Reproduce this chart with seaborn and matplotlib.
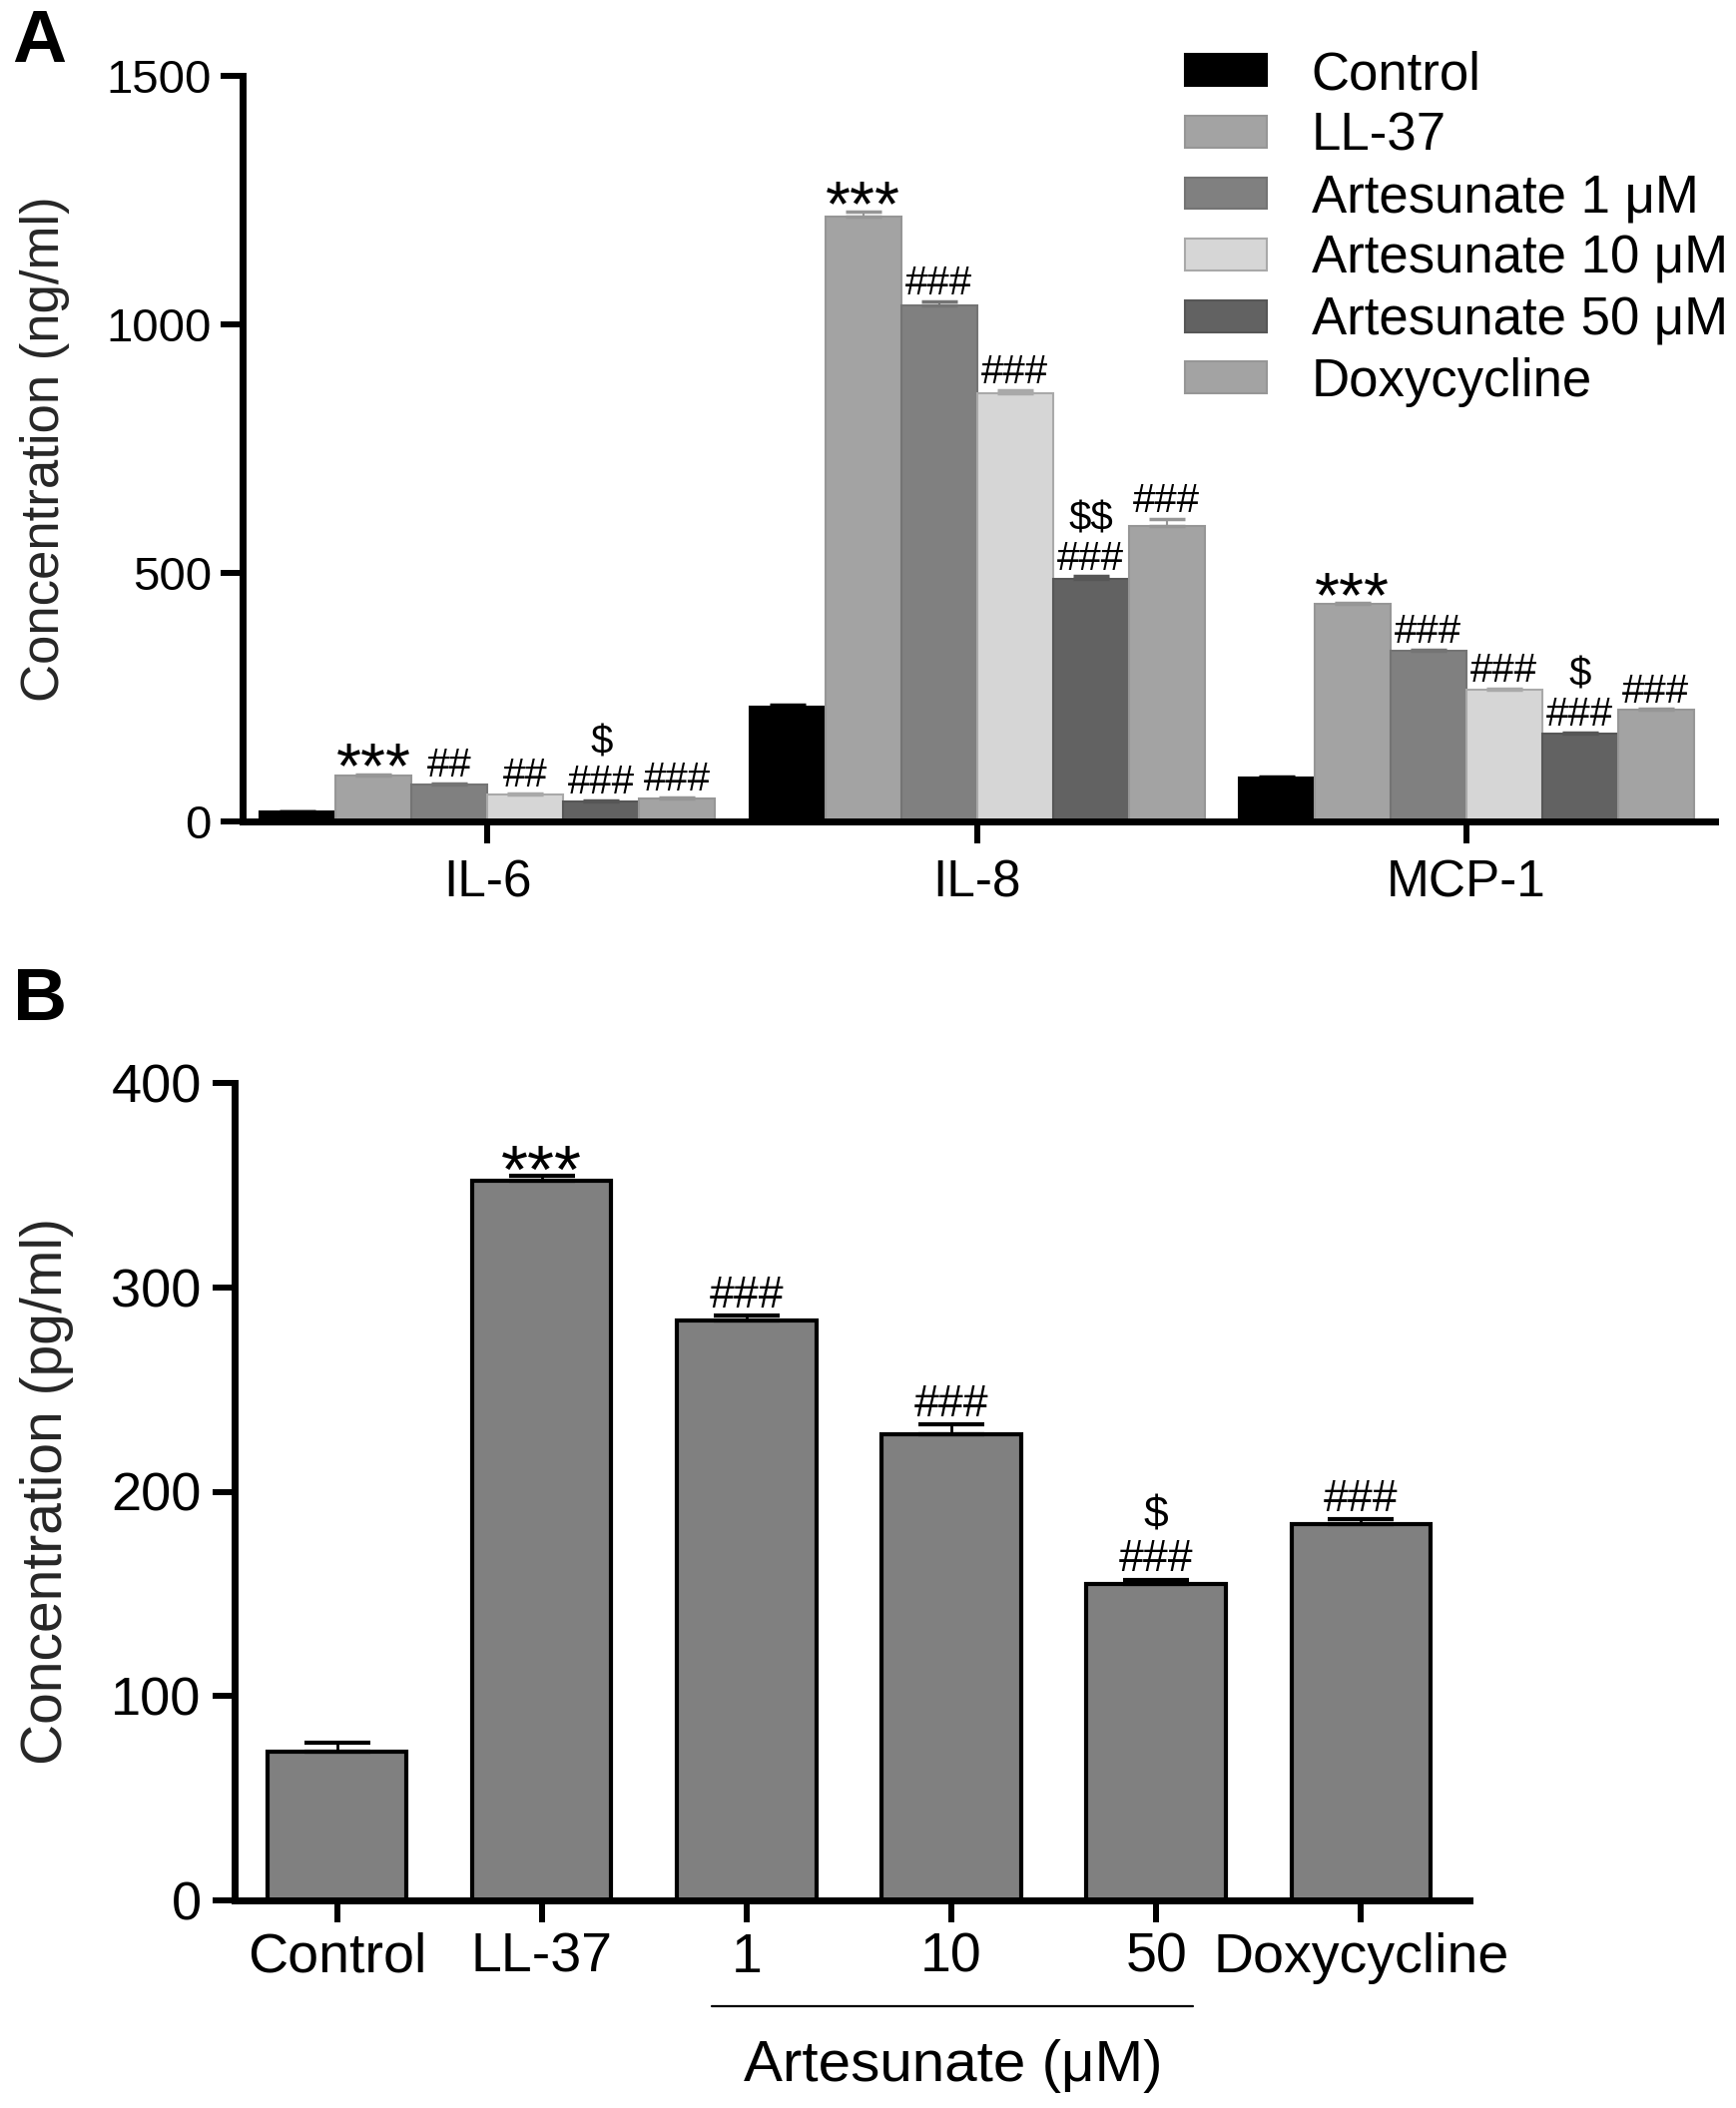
import numpy as np
import pandas as pd
import matplotlib
matplotlib.use("Agg")
import matplotlib.pyplot as plt
import seaborn as sns

# ---------------- data ----------------
cytokines = ["IL-6", "IL-8", "MCP-1"]
groups = ["Control", "LL-37", "Artesunate 1 μM", "Artesunate 10 μM",
          "Artesunate 50 μM", "Doxycycline"]

il6_mean = [20, 93, 75, 55, 40, 46]
il6_sem = [1, 2, 2, 2, 2, 2]
il8_mean = [230, 1217, 1039, 861, 488, 595]
il8_sem = [4, 10, 8, 7, 5, 13]
mcp1_mean = [88, 437, 343, 266, 177, 224]
mcp1_sem = [2, 3, 2, 2, 2, 2]

il6_marks = ["", "***", "##", "##", "$\n###", "###"]
il8_marks = ["", "***", "###", "###", "$$\n###", "###"]
mcp1_marks = ["", "***", "###", "###", "$\n###", "###"]

b_labels = ["Control", "LL-37", "1", "10", "50", "Doxycycline"]
b_mean = [73, 352, 284, 228, 155, 184]
b_sem = [4, 2.5, 2, 5, 2, 2.6]
b_marks = ["", "***", "###", "###", "$\n###", "###"]

fill_colors = ["#000000", "#a3a3a3", "#808080", "#d6d6d6", "#626262", "#a3a3a3"]
edge_colors = ["#000000", "#969696", "#747474", "#a9a9a9", "#565656", "#969696"]

# ---------------- style ----------------
sns.set_style("ticks")
plt.rcParams["font.family"] = ["Liberation Sans", "DejaVu Sans"]
plt.rcParams["axes.linewidth"] = 5
plt.rcParams["xtick.major.width"] = 4.3
plt.rcParams["ytick.major.width"] = 4.3
plt.rcParams["xtick.major.size"] = 16
plt.rcParams["ytick.major.size"] = 16
plt.rcParams["xtick.color"] = "black"
plt.rcParams["ytick.color"] = "black"
plt.rcParams["axes.edgecolor"] = "black"
plt.rcParams["text.color"] = "black"

W, H = 1739, 2112
fig = plt.figure(figsize=(W / 100, H / 100), dpi=100)

# ---------------- panel A ----------------
axA = fig.add_axes([243 / W, 1 - 823 / H, (1718 - 243) / W, (823 - 76) / H])

rows = []
for cyt, means in zip(cytokines, [il6_mean, il8_mean, mcp1_mean]):
    for g, v in zip(groups, means):
        rows.append({"cytokine": cyt, "group": g, "value": v})
dfA = pd.DataFrame(rows)

sns.barplot(data=dfA, x="cytokine", y="value", hue="group",
            order=cytokines, hue_order=groups, palette=fill_colors,
            width=0.93, gap=0, saturation=1, errorbar=None,
            legend=False, ax=axA)

bar_conts = list(axA.containers)
sems_by_cyt = [il6_sem, il8_sem, mcp1_sem]
marks_by_cyt = [il6_marks, il8_marks, mcp1_marks]
for gi, cont in enumerate(bar_conts):
    for ci, bar in enumerate(cont.patches):
        bar.set_edgecolor(edge_colors[gi])
        bar.set_linewidth(1.5)
        xc = bar.get_x() + bar.get_width() / 2
        top = bar.get_height()
        err = sems_by_cyt[ci][gi]
        axA.errorbar([xc], [top], yerr=[[0], [err]], fmt="none",
                     ecolor=edge_colors[gi], elinewidth=1.5, capsize=13,
                     capthick=2.5, zorder=3)
        mark = marks_by_cyt[ci][gi]
        if mark:
            if mark.startswith("*"):
                fs, off = 46, -10
            else:
                fs, off = 29, 5
            axA.annotate(mark, xy=(xc, top + err), xytext=(0, off),
                         textcoords="offset points", ha="center",
                         va="baseline", fontsize=fs, linespacing=1.05,
                         parse_math=False, annotation_clip=False)

axA.set_xlim(-0.5, 2.508)
axA.set_ylim(0, 1500)
axA.set_yticks([0, 500, 1000, 1500])
axA.tick_params(axis="y", labelsize=34, pad=6.5)
axA.tick_params(axis="x", labelsize=37, pad=11)
axA.set_xlabel("")
axA.set_ylabel("Concentration (ng/ml)", fontsize=38)
axA.yaxis.set_label_coords((45 - 243) / (1718 - 243), 0.5)
axA.yaxis.label.set_va("center")
sns.despine(ax=axA)

handles = [c.patches[0] for c in bar_conts]
axA.legend(handles, groups, loc="upper left",
           bbox_to_anchor=(1187 / W, 1 - 50 / H), bbox_transform=fig.transFigure,
           frameon=False, fontsize=38, borderpad=0, borderaxespad=0,
           handlelength=1.55, handleheight=0.55, handletextpad=0.85,
           labelspacing=0.22)

# ---------------- panel B ----------------
axB = fig.add_axes([235 / W, 1 - 1904 / H, (1472 - 235) / W, (1904 - 1085) / H])
dfB = pd.DataFrame({"group": b_labels, "value": b_mean})
sns.barplot(data=dfB, x="group", y="value", order=b_labels, color="#808080",
            edgecolor="black", linewidth=3, width=0.68, saturation=1,
            errorbar=None, ax=axB)

b_bars = list(axB.patches)
for i, bar in enumerate(b_bars):
    xc = bar.get_x() + bar.get_width() / 2
    top = bar.get_height()
    err = b_sem[i]
    axB.errorbar([xc], [top], yerr=[[0], [err]], fmt="none", ecolor="black",
                 elinewidth=2, capsize=24, capthick=3, zorder=3)
    mark = b_marks[i]
    if mark:
        if mark.startswith("*"):
            fs, off = 50, -12
        else:
            fs, off = 32, 6
        axB.annotate(mark, xy=(xc, top + err), xytext=(0, off),
                     textcoords="offset points", ha="center", va="baseline",
                     fontsize=fs, linespacing=1.1, parse_math=False,
                     annotation_clip=False)

axB.set_xlim(-0.50, 5.53)
axB.set_ylim(0, 400)
axB.set_yticks([0, 100, 200, 300, 400])
axB.tick_params(axis="y", labelsize=39, pad=8)
axB.tick_params(axis="x", labelsize=40, pad=7)
axB.set_xlabel("")
axB.set_ylabel("Concentration (pg/ml)", fontsize=41)
axB.yaxis.set_label_coords((47 - 235) / (1472 - 235), 0.5)
axB.yaxis.label.set_va("center")
sns.despine(ax=axB)

# bracket line + group label under artesunate doses
trans = axB.get_xaxis_transform()
axB.plot([1.83, 4.18], [-0.13, -0.13], transform=trans, color="black",
         lw=1.6, clip_on=False)
axB.text(3.01, -0.203, "Artesunate (μM)", transform=trans, ha="center",
         va="center", fontsize=42)

# panel letters
fig.text(39 / W, 1 - 42 / H, "A", fontsize=54, fontweight="bold",
         ha="center", va="center")
fig.text(40 / W, 1 - 1003 / H, "B", fontsize=54, fontweight="bold",
         ha="center", va="center")

fig.savefig("out.png", dpi=100, facecolor="white")
